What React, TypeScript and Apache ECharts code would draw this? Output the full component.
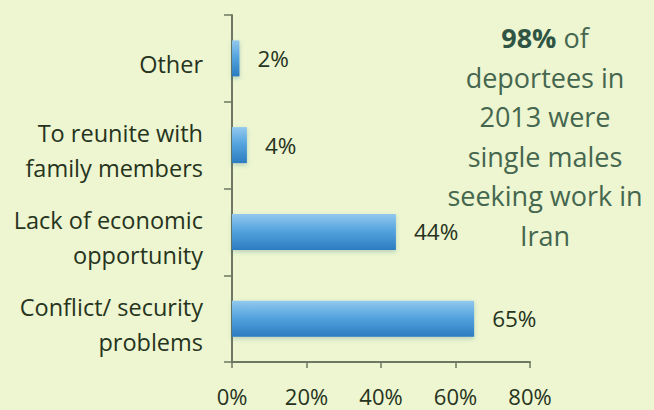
import React, { useEffect, useRef } from "react";
import * as echarts from "echarts";

const categories = [
  "Other",
  "To reunite with\nfamily members",
  "Lack of economic\nopportunity",
  "Conflict/ security\nproblems",
];
const values = [2, 4, 44, 65];
const xTicks = [0, 20, 40, 60, 80];
const noteLines = ["{b|98%}{n| of}", "deportees in", "2013 were", "single males", "seeking work in", "Iran"];

const FONT = "'Open Sans', 'Noto Sans', sans-serif";
const TEXT = "#26331d";

export default function App() {
  const ref = useRef<HTMLDivElement>(null);
  useEffect(() => {
    if (!ref.current) return;
    const chart = echarts.init(ref.current, undefined, { renderer: "svg" });
    chart.setOption({
      animation: false,
      backgroundColor: "#edf6d0",
      textStyle: { fontFamily: FONT },
      grid: { left: 232, right: 124, top: 15, bottom: 48, containLabel: false },
      xAxis: {
        type: "value",
        min: xTicks[0],
        max: xTicks[xTicks.length - 1],
        interval: 20,
        splitLine: { show: false },
        axisLine: { show: true, lineStyle: { color: "#6d7762", width: 2 } },
        axisTick: { show: true, length: 6, lineStyle: { color: "#6d7762", width: 1.5 } },
        axisLabel: { formatter: "{value}%", color: TEXT, fontSize: 22, lineHeight: 24, margin: 22, fontFamily: FONT },
      },
      yAxis: {
        type: "category",
        data: categories,
        inverse: true,
        axisLine: { show: true, lineStyle: { color: "#6d7762", width: 2 } },
        axisTick: { show: true, length: 8, lineStyle: { color: "#6d7762", width: 1.5 } },
        axisLabel: {
          color: TEXT,
          fontSize: 23.5,
          lineHeight: 35,
          margin: 29,
          align: "right",
          fontFamily: FONT,
          formatter: (v: string) => v.split("\n").map((l) => `{a|${l}}`).join("\n") + "\n{s|}",
          rich: {
            a: { color: TEXT, fontSize: 23.5, lineHeight: 35, fontFamily: FONT, align: "right" },
            s: { fontSize: 1, lineHeight: 1 },
          },
          padding: [12, 0, 0, 0],
        },
      },
      series: [
        {
          type: "bar",
          data: values,
          barWidth: 36,
          itemStyle: {
            color: new echarts.graphic.LinearGradient(0, 0, 0, 1, [
              { offset: 0, color: "#93c9ee" },
              { offset: 0.45, color: "#56a5df" },
              { offset: 1, color: "#2b7cc0" },
            ]),
            shadowColor: "rgba(40,90,130,0.25)",
            shadowBlur: 4,
            shadowOffsetY: 2,
          },
          label: {
            show: true,
            position: "right",
            distance: 18,
            formatter: "{c}%",
            color: TEXT,
            fontSize: 22.5,
            fontFamily: FONT,
          },
        },
      ],
      graphic: [
        {
          type: "text",
          x: 545,
          y: 18,
          style: {
            text: noteLines.join("\n"),
            align: "center",
            verticalAlign: "top",
            fontFamily: FONT,
            fontSize: 27,
            lineHeight: 39.5,
            fill: "#45664f",
            rich: {
              b: { fontWeight: "bold", fontSize: 27, fill: "#2f5444", lineHeight: 39.5, fontFamily: FONT },
              n: { fontSize: 27, fill: "#45664f", lineHeight: 39.5, fontFamily: FONT },
            },
          },
        },
      ],
    });
    return () => chart.dispose();
  }, []);
  return (
    <div
      ref={ref}
      style={{ position: "fixed", left: 0, top: 0, width: 654, height: 410 }}
    />
  );
}
